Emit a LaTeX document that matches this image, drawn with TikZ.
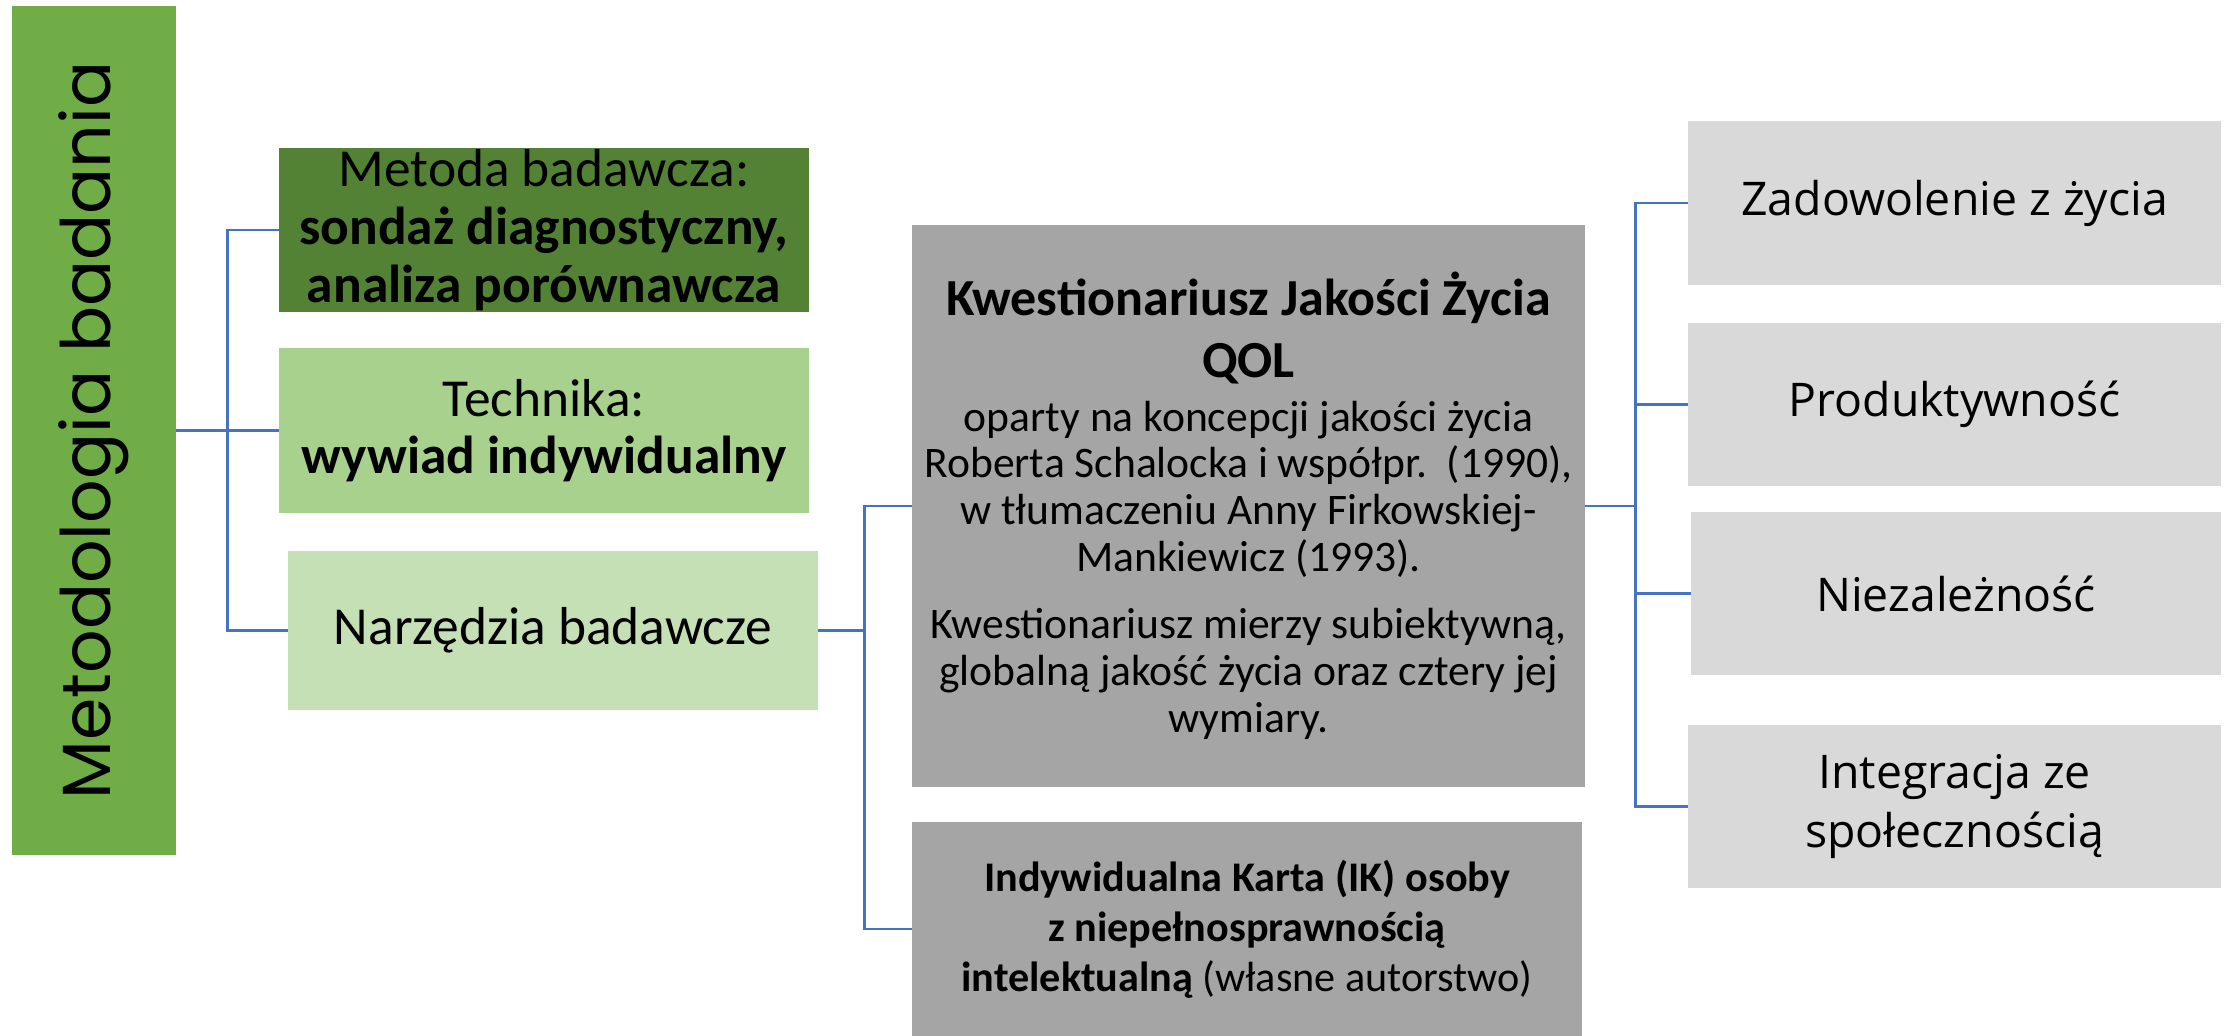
\documentclass[tikz,border=0pt]{standalone}
\usepackage{fontspec}
\setmainfont{Carlito}
\newfontfamily\barfont{Poppins}
\newfontfamily\dimfont{Open Sans}
\definecolor{bargreen}{HTML}{70AD47}
\definecolor{darkgreen}{HTML}{548235}
\definecolor{midgreen}{HTML}{A9D18E}
\definecolor{lightgreen}{HTML}{C5E0B4}
\definecolor{darkgrey}{HTML}{A5A5A5}
\definecolor{lightgrey}{HTML}{D9D9D9}
\definecolor{linkblue}{HTML}{4472C4}
\pgfdeclarelayer{edgelayer}
\pgfdeclarelayer{nodelayer}
\pgfsetlayers{edgelayer,nodelayer,main}
\tikzstyle{box}=[rectangle,inner sep=0pt,align=center,text=black]
\tikzstyle{title_bar}=[box,fill=bargreen,minimum width=21.225cm,minimum height=4.1cm,font=\barfont\fontsize{48.5}{56}\selectfont]
\tikzstyle{method_box}=[box,minimum width=13.25cm,minimum height=4.1cm,font=\fontsize{38}{41}\selectfont]
\tikzstyle{tool_box}=[box,fill=darkgrey,font=\fontsize{31}{33.4}\selectfont]
\tikzstyle{dim_box}=[box,fill=lightgrey,minimum width=13.325cm,minimum height=4.08cm,font=\dimfont\fontsize{33}{42}\selectfont]
\tikzstyle{link}=[draw=linkblue,line width=2pt]

\begin{document}
\begin{tikzpicture}[x=0.025cm,y=-0.025cm]
	\useasboundingbox (0,0) rectangle (2224,1036);
	\begin{pgfonlayer}{nodelayer}
		\node [style={title_bar},rotate=90] (0) at (94, 430.5) {Metodologia badania};
		\node [style={method_box},fill=darkgreen] (1) at (544, 230) {Metoda badawcza:\\\textbf{sondaż diagnostyczny,}\\\textbf{analiza porównawcza}};
		\node [style={method_box},fill=midgreen] (2) at (544, 430.5) {Technika:\\\textbf{wywiad indywidualny}};
		\node [style={method_box},fill=lightgreen,minimum height=3.975cm] (3) at (553, 630.5) {Narzędzia badawcze};
		\node [style={tool_box},minimum width=16.825cm,minimum height=14.025cm] (4) at (1248.5, 506) {{\bfseries\fontsize{37}{40}\selectfont Kwestionariusz Jakości Życia}\\[10pt]{\bfseries\fontsize{37}{40}\selectfont QOL}\\[5pt]oparty na koncepcji jakości życia\\Roberta Schalocka i współpr.~~(1990),\\w tłumaczeniu Anny Firkowskiej-\\Mankiewicz (1993).\\[14pt]Kwestionariusz mierzy subiektywną,\\globalną jakość życia oraz cztery jej\\wymiary.};
		\node [style={tool_box},minimum width=16.75cm,minimum height=5.35cm,font=\fontsize{30}{35.6}\selectfont] (5) at (1247, 929) {\textbf{Indywidualna Karta (IK) osoby}\\\textbf{z niepełnosprawnością}\\\textbf{intelektualną} (własne autorstwo)};
		\node [style={dim_box}] (6) at (1954.5, 203) {Zadowolenie z życia};
		\node [style={dim_box}] (7) at (1954.5, 404.5) {Produktywność};
		\node [style={dim_box},minimum width=13.25cm] (8) at (1956, 593.5) {Niezależność};
		\node [style={dim_box}] (9) at (1954.5, 806.5) {Integracja ze\\społecznością};
	\end{pgfonlayer}
	\begin{pgfonlayer}{edgelayer}
		\draw [style=link] (0.south |- 2.west) -- (2.west);
		\draw [style=link] (1.west) -- ++(-51,0) |- (3.west);
		\draw [style=link] (3.east) -- ++(47,0);
		\draw [style=link] (4.west) -- ++(-47,0) |- (5.west);
		\draw [style=link] (4.east) -- ++(51,0);
		\draw [style=link] (6.west) -- ++(-52,0) |- (9.west);
		\draw [style=link] (7.west) -- ++(-52,0);
		\draw [style=link] (8.west) -- ++(-55,0);
	\end{pgfonlayer}
\end{tikzpicture}
\end{document}
